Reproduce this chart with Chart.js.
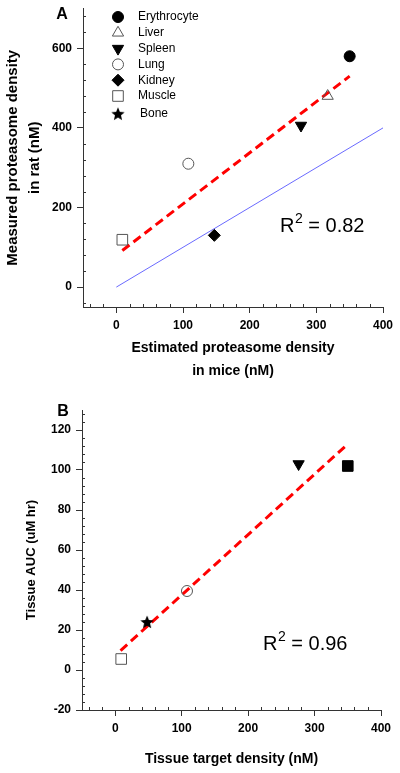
<!DOCTYPE html>
<html>
<head>
<meta charset="utf-8">
<script src="https://cdn.jsdelivr.net/npm/chart.js@4.4.1/dist/chart.umd.min.js"></script>
<style>
  html, body { margin: 0; padding: 0; background: #fff; }
  #wrap { position: relative; width: 400px; height: 773px; }
  canvas { position: absolute; left: 0; }
</style>
</head>
<body>
<div id="wrap">
  <canvas id="chartA" width="400" height="390" style="top:0"></canvas>
  <canvas id="chartB" width="400" height="383" style="top:390px"></canvas>
</div>
<script>
// Panel A: measured proteasome density (rat) vs estimated (mice), nM
const tissuesA = ['Erythrocyte', 'Liver', 'Spleen', 'Lung', 'Kidney', 'Muscle'];
const miceA = [350, 317, 277, 108, 147, 9];
const ratA = [580, 480, 406, 310, 130, 119];
const fitAx = [9, 350];
const fitAy = [92, 530];
const unityX = [0, 400];
const unityY = [0, 400];

// Panel B: tissue AUC vs tissue target density
const tissuesB = ['Spleen', 'Erythrocyte', 'Lung', 'Bone', 'Muscle'];
const densityB = [276, 350, 108, 48, 9];
const aucB = [103, 102, 39.5, 24, 5.5];
const fitBx = [8, 350];
const fitBy = [9.7, 113];

const legendNames = ['Erythrocyte', 'Liver', 'Spleen', 'Lung', 'Kidney', 'Muscle', 'Bone'];

// tick labels
const xMajor = [0, 100, 200, 300, 400];
const yMajorA = [0, 200, 400, 600];
const yMajorB = [-20, 0, 20, 40, 60, 80, 100, 120];

// minor (inside) tick marks
function steps(from, to, step, skip) {
  const out = [];
  for (let v = from; v <= to + 1e-9; v += step) {
    if (Math.abs(v % skip) > 1e-9) out.push(v);
  }
  return out;
}
const xMinor = steps(-40, 380, 20, 100);
const yMinorA = steps(-40, 680, 40, 200);
const yMinorB = steps(-16, 128, 4, 20);

const FONT = 'Arial, "Liberation Sans", Helvetica, sans-serif';
const AXIS = '#333';
Chart.defaults.font.family = FONT;
Chart.defaults.color = '#000';

function starImage(size) {
  const c = document.createElement('canvas');
  c.width = c.height = size;
  const g = c.getContext('2d');
  const cx = size / 2, cy = size / 2 + 0.6, R = size / 2, r = R * 0.45;
  g.beginPath();
  for (let i = 0; i < 10; i++) {
    const a = -Math.PI / 2 + i * Math.PI / 5;
    const rr = i % 2 ? r : R;
    g.lineTo(cx + rr * Math.cos(a), cy + rr * Math.sin(a));
  }
  g.closePath();
  g.fillStyle = '#000';
  g.fill();
  return c;
}
const star = starImage(14);

const styles = {
  Erythrocyte: { pointStyle: 'circle', radius: 5.5, rotation: 0, filled: true },
  Liver: { pointStyle: 'triangle', radius: 6.5, rotation: 0, filled: false },
  Spleen: { pointStyle: 'triangle', radius: 6.5, rotation: 180, filled: true },
  Lung: { pointStyle: 'circle', radius: 5.5, rotation: 0, filled: false },
  Kidney: { pointStyle: 'rectRot', radius: 6, rotation: 0, filled: true },
  Muscle: { pointStyle: 'rect', radius: 7.5, rotation: 0, filled: false },
  Bone: { pointStyle: star, radius: 7, rotation: 0, filled: true }
};
// erythrocyte shows as a filled square in panel B
const stylesB = Object.assign({}, styles, {
  Erythrocyte: { pointStyle: 'rect', radius: 7.5, rotation: 0, filled: true }
});

function pointSet(name, xs, ys, i, st) {
  return {
    type: 'scatter',
    label: name,
    data: [{ x: xs[i], y: ys[i] }],
    pointStyle: st.pointStyle,
    pointRadius: st.radius,
    pointHoverRadius: st.radius,
    pointRotation: st.rotation,
    backgroundColor: st.filled ? '#000' : 'rgba(0,0,0,0)',
    borderColor: st.filled ? '#000' : '#555',
    borderWidth: 1,
    order: 0
  };
}

function lineSet(xs, ys, color, width, dash) {
  return {
    type: 'line',
    data: xs.map((x, i) => ({ x: x, y: ys[i] })),
    borderColor: color,
    borderWidth: width,
    borderDash: dash,
    borderCapStyle: 'butt',
    pointRadius: 0,
    pointHoverRadius: 0,
    fill: false,
    tension: 0,
    order: 1
  };
}

function drawMarker(ctx, st, x, y) {
  ctx.save();
  ctx.fillStyle = st.filled ? '#000' : 'rgba(0,0,0,0)';
  ctx.strokeStyle = st.filled ? '#000' : '#555';
  ctx.lineWidth = 1;
  Chart.helpers.drawPoint(ctx, { pointStyle: st.pointStyle, radius: st.radius, rotation: st.rotation, borderWidth: 1 }, x, y);
  ctx.restore();
}

const extras = {
  id: 'extras',
  afterDraw(chart, args, opts) {
    const ctx = chart.ctx;
    const xs = chart.scales.x, ys = chart.scales.y;
    const area = chart.chartArea;
    ctx.save();
    ctx.strokeStyle = AXIS;
    ctx.lineWidth = 1;
    ctx.beginPath();
    opts.xMinor.forEach(v => {
      const px = Math.round(xs.getPixelForValue(v)) + 0.5;
      ctx.moveTo(px, area.bottom);
      ctx.lineTo(px, area.bottom - 3);
    });
    opts.yMinor.forEach(v => {
      const py = Math.round(ys.getPixelForValue(v)) + 0.5;
      ctx.moveTo(area.left, py);
      ctx.lineTo(area.left + 3, py);
    });
    ctx.stroke();

    // panel letter
    ctx.fillStyle = '#000';
    ctx.font = 'bold 16px ' + FONT;
    ctx.textAlign = 'center';
    ctx.textBaseline = 'middle';
    ctx.fillText(opts.panel.text, opts.panel.x, opts.panel.y);

    // R squared
    ctx.textAlign = 'left';
    ctx.textBaseline = 'alphabetic';
    let x = opts.r2.x;
    const b = opts.r2.y;
    ctx.font = '20px ' + FONT;
    ctx.fillText('R', x, b);
    x += ctx.measureText('R').width + 0.5;
    ctx.font = '14px ' + FONT;
    ctx.fillText('2', x, b - 9);
    x += ctx.measureText('2').width;
    ctx.font = '20px ' + FONT;
    ctx.fillText(' = ' + opts.r2.value, x, b);

    // legend
    if (opts.legend) {
      const lg = opts.legend;
      ctx.font = '12px ' + FONT;
      ctx.textBaseline = 'middle';
      legendNames.forEach((name, i) => {
        const ry = lg.y + i * lg.step + (name === 'Bone' ? 2 : 0);
        drawMarker(ctx, styles[name], lg.x, ry);
        ctx.fillStyle = '#000';
        ctx.fillText(name, lg.textX + (name === 'Bone' ? 2 : 0), ry);
      });
    }
    ctx.restore();
  }
};

function axes(o) {
  const tickFont = { size: 12, weight: 'bold' };
  return {
    x: {
      type: 'linear', min: o.xMin, max: o.xMax,
      afterBuildTicks: s => { s.ticks = o.xMajor.map(v => ({ value: v })); },
      afterFit: s => { s.height = o.xHeight; s.paddingLeft = 0; s.paddingRight = 0; },
      grid: { drawOnChartArea: false, drawTicks: true, tickLength: 6, color: AXIS },
      border: { display: true, color: AXIS, width: 1 },
      ticks: { font: tickFont, color: '#000', padding: 5, maxRotation: 0, autoSkip: false },
      title: { display: true, text: o.xTitle, font: { size: 14, weight: 'bold', lineHeight: 1.6 }, color: '#000', padding: { top: 0, bottom: 0 } }
    },
    y: {
      type: 'linear', min: o.yMin, max: o.yMax,
      afterBuildTicks: s => { s.ticks = o.yMajor.map(v => ({ value: v })); },
      afterFit: s => { s.width = o.yWidth; s.paddingTop = 0; s.paddingBottom = 0; },
      grid: { drawOnChartArea: false, drawTicks: true, tickLength: 6, color: AXIS },
      border: { display: true, color: AXIS, width: 1 },
      ticks: { font: tickFont, color: '#000', padding: 5, autoSkip: false },
      title: { display: true, text: o.yTitle, font: { size: o.yTitleSize, weight: 'bold', lineHeight: o.yTitleLH }, color: '#000', padding: { top: o.yTitlePad, bottom: 0 } }
    }
  };
}

const datasetsA = tissuesA.map((t, i) => pointSet(t, miceA, ratA, i, styles[t]));
datasetsA.push(lineSet(fitAx, fitAy, '#ff0000', 3, [9, 5]));
datasetsA.push(lineSet(unityX, unityY, '#6a6aff', 1, []));

new Chart(document.getElementById('chartA'), {
  type: 'scatter',
  data: { datasets: datasetsA },
  options: {
    responsive: false,
    animation: false,
    layout: { padding: { top: 5, right: 17, bottom: 8, left: 0 } },
    scales: axes({
      xMin: -50, xMax: 400, xMajor: xMajor, xHeight: 75,
      xTitle: ['Estimated proteasome density', 'in mice (nM)'],
      yMin: -50, yMax: 700, yMajor: yMajorA, yWidth: 83,
      yTitleSize: 15, yTitleLH: 1.47, yTitlePad: 2,
      yTitle: ['Measured proteasome density', 'in rat (nM)']
    }),
    plugins: {
      legend: { display: false },
      tooltip: { enabled: false },
      extras: {
        xMinor: xMinor, yMinor: yMinorA,
        panel: { text: 'A', x: 62, y: 15 },
        r2: { value: '0.82', x: 280, y: 232 },
        legend: { x: 118, textX: 138, y: 17, step: 15.8 }
      }
    }
  },
  plugins: [extras]
});

const datasetsB = tissuesB.map((t, i) => pointSet(t, densityB, aucB, i, stylesB[t]));
datasetsB.push(lineSet(fitBx, fitBy, '#ff0000', 3, [9, 5]));

new Chart(document.getElementById('chartB'), {
  type: 'scatter',
  data: { datasets: datasetsB },
  options: {
    responsive: false,
    animation: false,
    layout: { padding: { top: 20, right: 19, bottom: 3, left: 0 } },
    scales: axes({
      xMin: -50, xMax: 400, xMajor: xMajor, xHeight: 60,
      xTitle: 'Tissue target density (nM)',
      yMin: -20, yMax: 130, yMajor: yMajorB, yWidth: 82,
      yTitleSize: 13, yTitleLH: 1.6, yTitlePad: 21,
      yTitle: 'Tissue AUC (uM hr)'
    }),
    plugins: {
      legend: { display: false },
      tooltip: { enabled: false },
      extras: {
        xMinor: xMinor, yMinor: yMinorB,
        panel: { text: 'B', x: 63, y: 22 },
        r2: { value: '0.96', x: 263, y: 260 },
        legend: null
      }
    }
  },
  plugins: [extras]
});
</script>
</body>
</html>
